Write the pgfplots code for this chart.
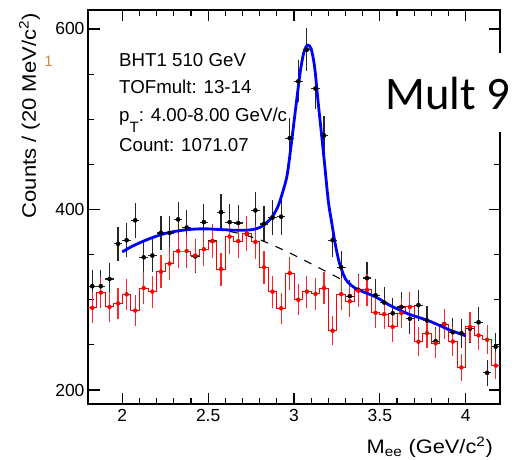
\documentclass[border=0pt]{standalone}
\usepackage{fontspec}
\setmainfont{Liberation Sans}
\newfontfamily\calibri{Carlito}
\usepackage{pgfplots}
\usepackage{pgfplotstable}
\pgfplotsset{compat=1.18}
\definecolor{rootblue}{RGB}{0,0,255}
\definecolor{rootred}{RGB}{255,0,0}
\definecolor{tanone}{RGB}{196,140,80}

\pgfplotstableread{
x y ey
1.825 315 17.7
1.875 315 17.7
1.925 323 18.0
1.975 362 19.0
2.025 366 19.1
2.075 388 19.7
2.125 347 18.6
2.175 349 18.7
2.225 374 19.3
2.275 374 19.3
2.325 389 19.7
2.375 380 19.5
2.425 348 18.7
2.475 386 19.6
2.525 365 19.1
2.575 397 19.9
2.625 386 19.6
2.675 385 19.6
2.725 373 19.3
2.775 399 20.0
2.825 384 19.6
2.875 391 19.8
2.925 392 19.8
2.975 479 21.9
3.025 542 23.3
3.075 577 24.0
3.125 534 23.1
3.175 482 22.0
3.225 366 19.1
3.275 336 18.3
3.325 304 17.4
3.375 311 17.6
3.425 324 18.0
3.475 305 17.5
3.525 297 17.2
3.575 285 16.9
3.625 292 17.1
3.675 279 16.7
3.725 294 17.1
3.775 277 16.6
3.825 254 15.9
3.875 273 16.5
3.925 264 16.2
3.975 263 16.2
4.025 268 16.4
4.075 275 16.6
4.125 219 14.8
4.175 248 15.7
}\blackdata

% red histogram: bin left edges (last row closes the final bin)
\pgfplotstableread{
x y
1.80 291
1.85 308
1.90 292
1.95 296
2.00 306
2.05 288
2.10 313
2.15 309
2.20 331
2.25 340
2.30 354
2.35 354
2.40 349
2.45 356
2.50 365
2.55 334
2.60 370
2.65 365
2.70 373
2.75 364
2.80 336
2.85 309
2.90 290.5
2.95 329.5
3.00 300
3.05 309
3.10 306.5
3.15 313
3.20 265.7
3.25 306.3
3.30 298.2
3.35 310
3.40 310.8
3.45 285.6
3.50 284
3.55 270
3.60 285.3
3.65 292
3.70 253.5
3.75 263
3.80 251.7
3.85 273
3.90 253.7
3.95 225
4.00 270
4.05 260.5
4.10 255.7
4.15 227
4.20 227
}\redhist

\pgfplotstableread{
x y ey
1.825 291 17.1
1.875 308 17.5
1.925 292 17.1
1.975 296 17.2
2.025 306 17.5
2.075 288 17.0
2.125 313 17.7
2.175 309 17.6
2.225 331 18.2
2.275 340 18.4
2.325 354 18.8
2.375 354 18.8
2.425 349 18.7
2.475 356 18.9
2.525 365 19.1
2.575 334 18.3
2.625 370 19.2
2.675 365 19.1
2.725 373 19.3
2.775 364 19.1
2.825 336 18.3
2.875 309 17.6
2.925 290.5 17.0
2.975 329.5 18.2
3.025 300 17.3
3.075 309 17.6
3.125 306.5 17.5
3.175 313 17.7
3.225 265.7 16.3
3.275 306.3 17.5
3.325 298.2 17.3
3.375 310 17.6
3.425 310.8 17.6
3.475 285.6 16.9
3.525 284 16.9
3.575 270 16.4
3.625 285.3 16.9
3.675 292 17.1
3.725 253.5 15.9
3.775 263 16.2
3.825 251.7 15.9
3.875 273 16.5
3.925 253.7 15.9
3.975 225 15.0
4.025 270 16.4
4.075 260.5 16.1
4.125 255.7 16.0
4.175 227 15.1
}\rederr

\pgfplotstableread{
x y
2.00 353
2.05 358.5
2.10 363
2.15 367
2.20 370.5
2.25 373.5
2.30 375.5
2.35 377
2.40 378
2.45 378.5
2.50 378.5
2.55 378
2.60 377.5
2.65 377
2.70 377
2.75 377.5
2.80 380
2.85 387
2.88 394
2.91 405
2.94 423
2.96 438
2.98 466
3.00 497
3.02 528
3.04 557
3.06 576
3.08 582
3.10 578
3.12 558
3.14 520
3.16 484
3.18 447
3.20 409
3.22 385
3.24 362
3.26 344
3.28 332
3.30 323
3.33 316.5
3.36 312.5
3.40 309
3.46 304.5
3.50 300.5
3.556 294
3.60 290
3.65 285.5
3.70 282
3.75 279
3.80 275.5
3.866 270
3.90 267
3.95 263.5
4.00 260
}\fitdata

\pgfplotstableread{
x y
2.00 353
2.10 363
2.20 370.5
2.30 375.5
2.40 378
2.50 378
2.60 376.5
2.70 372.5
2.80 366.5
2.90 358.5
3.00 349.5
3.10 339.8
3.20 330
3.30 320
3.36 312.5
3.40 309
3.46 304.5
3.50 300.5
3.556 294
3.60 290
3.65 285.5
3.70 282
3.75 279
3.80 275.5
3.866 270
3.90 267
3.95 263.5
4.00 260
}\bgdata

\begin{document}
\begin{tikzpicture}
\path[use as bounding box] (-88bp,-56bp) rectangle (426bp,404bp);
\begin{axis}[
  at={(0,0)}, anchor=south west,
  scale only axis, width=412bp, height=394bp,
  xmin=1.8, xmax=4.2, ymin=184.5, ymax=621,
  xtick={2,2.5,3,3.5,4}, ytick={200,400,600},
  minor x tick num=4, minor y tick num=3,
  major tick length=11.5bp, minor tick length=6bp,
  tick align=inside, xtick pos=both, ytick pos=both,
  axis line style={line width=1.1bp},
  tick style={black, line width=1.1bp},
  tick label style={font=\fontsize{17.5bp}{17.5bp}\selectfont},
  /pgf/number format/assume math mode=true,
  xticklabel style={yshift=-1.5bp},
]
\addplot[black, only marks, mark=*, mark size=2.1bp,
  error bars/.cd, x dir=both, x fixed=0.025, y dir=both, y explicit, error mark=none,
  error bar style={draw=black!85, line width=1.2bp}]
  table[x=x, y=y, y error=ey] {\blackdata};
\addplot[draw=rootred, line width=1bp, const plot, mark=none] table[x=x, y=y] {\redhist};
\addplot[rootred, only marks, mark=none,
  error bars/.cd, y dir=both, y explicit, error mark=none,
  error bar style={draw=rootred!85, line width=1.1bp, solid}]
  table[x=x, y=y, y error=ey] {\rederr};
\addplot[black, line width=1.1bp, dash pattern=on 8bp off 8bp, smooth] table[x=x, y=y] {\bgdata};
\addplot[rootblue, line width=2.8bp, smooth, tension=0.5] table[x=x, y=y] {\fitdata};
\end{axis}
% label box for Mult 9
\fill[white] (287bp,272.3bp) rectangle (426bp,350.7bp);
\node[anchor=base west, inner sep=0pt, font=\calibri\fontsize{46.6bp}{46.6bp}\selectfont] at (297bp,294.7bp) {Mult 9};
% statistics text
\begin{scope}[every node/.style={anchor=base west, inner sep=0pt, font=\fontsize{18.7bp}{18.7bp}\selectfont}]
\node at (31bp,337bp) {BHT1 510 GeV};
\node at (31bp,310bp) {TOFmult: 13-14};
\node at (31bp,282.3bp) {p\raisebox{-11bp}{\fontsize{15bp}{15bp}\selectfont T}: 4.00-8.00 GeV/c};
\node at (31bp,252.5bp) {Count: 1071.07};
\end{scope}
% axis titles
\node[rotate=90, anchor=base east, inner sep=0pt, font=\fontsize{19.5bp}{19.5bp}\selectfont] at (-52bp,391bp) {\scalebox{1.13}[1]{Counts / (20 MeV/c\textsuperscript{2})}};
\node[anchor=base east, inner sep=0pt, font=\fontsize{19.5bp}{19.5bp}\selectfont] at (405bp,-49.5bp) {\scalebox{1.12}[1]{M\textsubscript{ee} (GeV/c\textsuperscript{2})}};
\node[text=tanone, inner sep=0pt, font=\fontsize{15bp}{15bp}\selectfont] at (-39.5bp,343bp) {1};
\end{tikzpicture}
\end{document}
